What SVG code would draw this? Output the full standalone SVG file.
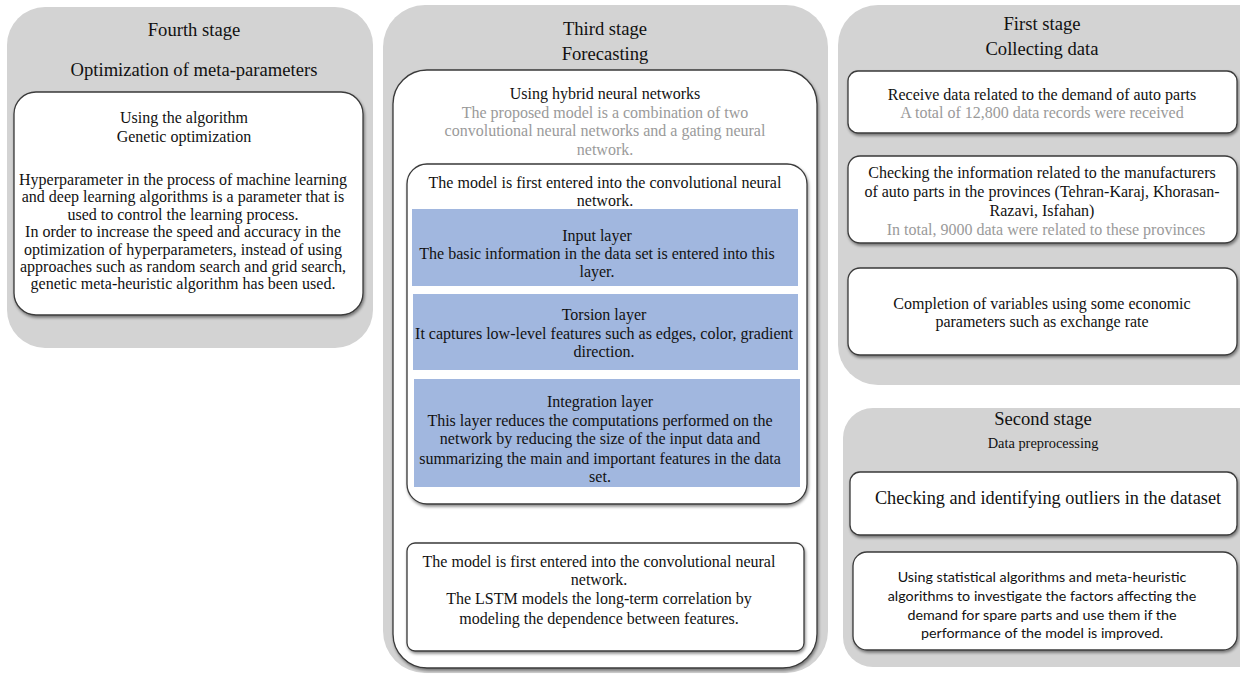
<svg xmlns="http://www.w3.org/2000/svg" width="1240" height="675" viewBox="0 0 1240 675" font-family="'Liberation Serif', 'Times New Roman', serif">
<style>
.panel{fill:#d3d3d3}
.box{fill:#fff;stroke:#3a3a3a;stroke-width:1.3;filter:url(#sh)}
.blue{fill:#a1b7df}
text{fill:#111;text-anchor:middle}
.t{font-size:18.6px}
.b{font-size:16px}
.m{font-size:16px}
.g{fill:#9a9a9a}
.s{font-size:14.3px}
</style>
<defs>
<filter id="sh" x="-10%" y="-10%" width="120%" height="125%">
<feDropShadow dx="1" dy="2" stdDeviation="1.5" flood-color="#000" flood-opacity="0.45"/>
</filter>
</defs>
<rect width="1240" height="675" fill="#fff"/>

<g id="fourth-stage">
<rect class="panel" x="7" y="7" width="366" height="341" rx="38"/>
<text class="t" x="194" y="36">Fourth stage</text>
<text class="t" x="194" y="76">Optimization of meta-parameters</text>
<rect class="box" x="14" y="92" width="349" height="223" rx="22"/>
<text class="b" x="184" y="123">Using the algorithm</text>
<text class="b" x="184" y="142">Genetic optimization</text>
<text class="b" x="183" y="185">Hyperparameter in the process of machine learning</text>
<text class="b" x="183" y="202">and deep learning algorithms is a parameter that is</text>
<text class="b" x="183" y="220">used to control the learning process.</text>
<text class="b" x="183" y="237">In order to increase the speed and accuracy in the</text>
<text class="b" x="183" y="255">optimization of hyperparameters, instead of using</text>
<text class="b" x="183" y="272">approaches such as random search and grid search,</text>
<text class="b" x="183" y="289">genetic meta-heuristic algorithm has been used.</text>
</g>

<g id="third-stage">
<rect class="panel" x="383" y="5" width="445" height="668" rx="42"/>
<text class="t" x="605" y="35">Third stage</text>
<text class="t" x="605" y="60">Forecasting</text>
<rect class="box" x="393" y="70" width="424" height="598" rx="34"/>
<text class="m" x="605" y="99">Using hybrid neural networks</text>
<text class="m g" x="605" y="118">The proposed model is a combination of two</text>
<text class="m g" x="605" y="136">convolutional neural networks and a gating neural</text>
<text class="m g" x="605" y="155">network.</text>
<g id="cnn-block">
<rect class="box" x="407" y="164" width="400" height="340" rx="20"/>
<text class="m" x="605" y="188">The model is first entered into the convolutional neural</text>
<text class="m" x="605" y="206">network.</text>
</g>
<g id="input-layer">
<rect class="blue" x="412" y="209" width="386" height="77"/>
<text class="m" x="597" y="241">Input layer</text>
<text class="m" x="597" y="259">The basic information in the data set is entered into this</text>
<text class="m" x="597" y="277">layer.</text>
</g>
<g id="torsion-layer">
<rect class="blue" x="413" y="294" width="385" height="76"/>
<text class="m" x="604" y="320">Torsion layer</text>
<text class="m" x="604" y="339">It captures low-level features such as edges, color, gradient</text>
<text class="m" x="604" y="357">direction.</text>
</g>
<g id="integration-layer">
<rect class="blue" x="414" y="379" width="386" height="108"/>
<text class="m" x="600" y="407">Integration layer</text>
<text class="m" x="600" y="426">This layer reduces the computations performed on the</text>
<text class="m" x="600" y="444">network by reducing the size of the input data and</text>
<text class="m" x="600" y="464">summarizing the main and important features in the data</text>
<text class="m" x="600" y="482">set.</text>
</g>
<g id="lstm-block">
<rect class="box" x="407" y="543" width="397" height="108" rx="8"/>
<text class="m" x="599" y="567">The model is first entered into the convolutional neural</text>
<text class="m" x="599" y="585">network.</text>
<text class="m" x="599" y="604">The LSTM models the long-term correlation by</text>
<text class="m" x="599" y="624">modeling the dependence between features.</text>
</g>
</g>

<g id="first-stage">
<rect class="panel" x="838" y="5" width="440" height="380" rx="40"/>
<text class="t" x="1042" y="30">First stage</text>
<text class="t" x="1042" y="55">Collecting data</text>
<g id="receive-data">
<rect class="box" x="848" y="71" width="389" height="62" rx="10"/>
<text class="m" x="1042" y="100">Receive data related to the demand of auto parts</text>
<text class="m g" x="1042" y="118">A total of 12,800 data records were received</text>
</g>
<g id="check-manufacturers">
<rect class="box" x="848" y="156" width="389" height="87" rx="12"/>
<text class="m" x="1042" y="178">Checking the information related to the manufacturers</text>
<text class="m" x="1042" y="197">of auto parts in the provinces (Tehran-Karaj, Khorasan-</text>
<text class="m" x="1042" y="216">Razavi, Isfahan)</text>
<text class="m g" x="1046" y="235">In total, 9000 data were related to these provinces</text>
</g>
<g id="complete-variables">
<rect class="box" x="848" y="268" width="389" height="87" rx="12"/>
<text class="m" x="1042" y="309">Completion of variables using some economic</text>
<text class="m" x="1042" y="327">parameters such as exchange rate</text>
</g>
</g>

<g id="second-stage">
<rect class="panel" x="843" y="408" width="440" height="259" rx="30"/>
<text class="t" x="1043" y="425">Second stage</text>
<text x="1043" y="448" font-size="14.4px">Data preprocessing</text>
<g id="outliers">
<rect class="box" x="850" y="472" width="387" height="63" rx="10"/>
<text x="1048" y="504" font-size="18.3px">Checking and identifying outliers in the dataset</text>
</g>
<g id="statistical">
<rect class="box" x="853" y="552" width="384" height="98" rx="14"/>
<g font-family="Lato, 'Open Sans', sans-serif">
<text class="s" x="1042" y="582">Using statistical algorithms and meta-heuristic</text>
<text class="s" x="1042" y="601">algorithms to investigate the factors affecting the</text>
<text class="s" x="1042" y="620">demand for spare parts and use them if the</text>
<text class="s" x="1042" y="638">performance of the model is improved.</text>
</g>
</g>
</g>

<g id="connectors"></g>
</svg>
